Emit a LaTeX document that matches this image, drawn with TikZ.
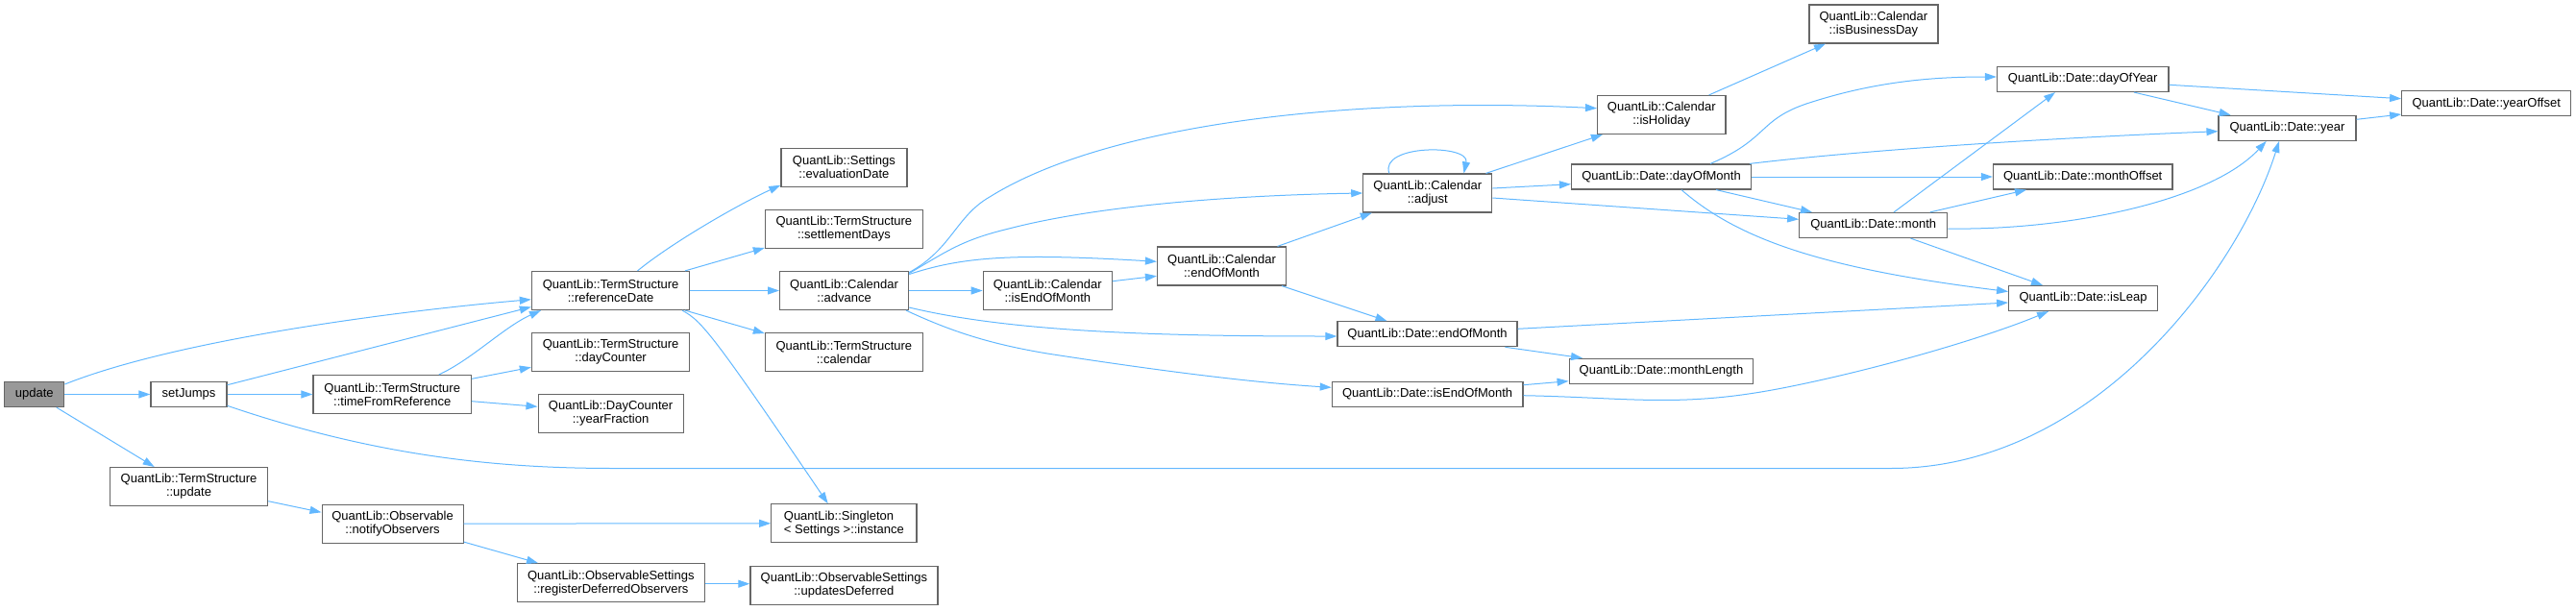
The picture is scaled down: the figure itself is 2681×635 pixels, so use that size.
\documentclass[tikz,border=0pt]{standalone}
\usepackage{fontspec}
\setmainfont{Liberation Sans}
\usetikzlibrary{arrows.meta}
\definecolor{edgecol}{HTML}{63B8FF}
\definecolor{bordercol}{HTML}{666666}
\definecolor{upfill}{HTML}{999999}
\tikzset{
  fn/.style={draw=bordercol, line width=1.2pt, fill=white, inner sep=0pt, align=center,
    font=\fontsize{13}{14}\selectfont, text=black},
  one/.style={minimum height=26pt},
  two/.style={minimum height=40pt},
  ca/.style={draw=edgecol, line width=1pt, -{Triangle[length=12pt,width=8pt]}},
}
\begin{document}
\begin{tikzpicture}[x=1pt,y=-1pt]
\useasboundingbox (0,0) rectangle (2681,635);
% nodes
\node[fn,one,fill=upfill,minimum width=62pt] (upd) at (35.8,410.5) {update};
\node[fn,one,minimum width=79pt] (sj) at (196.5,410.5) {setJumps};
\node[fn,two,minimum width=164.4pt] (tsupd) at (196.5,506.6) {QuantLib::TermStructure\\::update};
\node[fn,two,minimum width=164.4pt] (tfr) at (408.2,410.5) {QuantLib::TermStructure\\::timeFromReference};
\node[fn,two,minimum width=147pt] (notify) at (408.6,545.1) {QuantLib::Observable\\::notifyObservers};
\node[fn,two,minimum width=164.4pt] (refd) at (635.6,302.5) {QuantLib::TermStructure\\::referenceDate};
\node[fn,two,minimum width=164.4pt] (dayc) at (635.6,366.5) {QuantLib::TermStructure\\::dayCounter};
\node[fn,two,minimum width=151pt] (yf) at (635.6,430.5) {QuantLib::DayCounter\\::yearFraction};
\node[fn,two,minimum width=195pt] (regdef) at (635.8,606.7) {QuantLib::ObservableSettings\\::registerDeferredObservers};
\node[fn,two,minimum width=131pt] (evald) at (878.4,174.3) {QuantLib::Settings\\::evaluationDate};
\node[fn,two,minimum width=164pt] (settl) at (878.4,238.5) {QuantLib::TermStructure\\::settlementDays};
\node[fn,two,minimum width=134pt] (adv) at (878.6,302.5) {QuantLib::Calendar\\::advance};
\node[fn,two,minimum width=164pt] (tscal) at (878.4,366.5) {QuantLib::TermStructure\\::calendar};
\node[fn,two,minimum width=151.3pt,align=left] (single) at (878.4,544.8) {QuantLib::Singleton\\< Settings >::instance};
\node[fn,two,minimum width=195pt] (upddef) at (878.4,609.2) {QuantLib::ObservableSettings\\::updatesDeferred};
\node[fn,two,minimum width=134pt] (cieom) at (1090.3,302.5) {QuantLib::Calendar\\::isEndOfMonth};
\node[fn,two,minimum width=134pt] (ceom) at (1271.5,277) {QuantLib::Calendar\\::endOfMonth};
\node[fn,two,minimum width=134pt] (adj) at (1485.8,201) {QuantLib::Calendar\\::adjust};
\node[fn,one,minimum width=187pt] (deom) at (1485.5,347.7) {QuantLib::Date::endOfMonth};
\node[fn,one,minimum width=198.6pt] (dieom) at (1485.6,410.3) {QuantLib::Date::isEndOfMonth};
\node[fn,two,minimum width=133.5pt] (hol) at (1729.3,119.5) {QuantLib::Calendar\\::isHoliday};
\node[fn,one,minimum width=187pt] (dom) at (1729,184) {QuantLib::Date::dayOfMonth};
\node[fn,one,minimum width=191.7pt] (mlen) at (1729,386.3) {QuantLib::Date::monthLength};
\node[fn,two,minimum width=134pt] (bday) at (1949.9,25) {QuantLib::Calendar\\::isBusinessDay};
\node[fn,one,minimum width=154pt] (month) at (1949.7,234.5) {QuantLib::Date::month};
\node[fn,one,minimum width=178.6pt] (doy) at (2167.7,82.5) {QuantLib::Date::dayOfYear};
\node[fn,one,minimum width=186.5pt] (moff) at (2167.7,184) {QuantLib::Date::monthOffset};
\node[fn,one,minimum width=154.7pt] (leap) at (2168,310.5) {QuantLib::Date::isLeap};
\node[fn,one,minimum width=143pt] (year) at (2380.5,133.3) {QuantLib::Date::year};
\node[fn,one,minimum width=176pt] (yoff) at (2587.7,107.8) {QuantLib::Date::yearOffset};
% edges
\draw[ca] ([yshift=10.5pt]upd.east) .. controls (180,355) and (400,325) .. ([yshift=-9.2pt]refd.west);
\draw[ca] (upd.east) -- (sj.west);
\draw[ca] ([xshift=23pt]upd.south) -- ([xshift=-35.8pt]tsupd.north);
\draw[ca] ([yshift=9.8pt]sj.east) -- ([yshift=-17pt]refd.west);
\draw[ca] (sj.east) -- (tfr.west);
\draw[ca] ([yshift=-11.8pt]sj.east) .. controls (400,478) and (530,487.5) .. (640,487.5) -- (1968,487.5) .. controls (2180,487.5) and (2330,280) .. ([xshift=-8.5pt]year.south);
\draw[ca] ([xshift=48.6pt]tfr.north) .. controls (490,375) and (525,340) .. ([xshift=-72.6pt]refd.south);
\draw[ca] ([yshift=16.2pt]tfr.east) -- ([yshift=-15.8pt]dayc.west);
\draw[ca] ([yshift=-7.2pt]tfr.east) -- ([yshift=7.2pt]yf.west);
\draw[ca] ([yshift=-15.1pt]tsupd.east) -- ([yshift=11.8pt]notify.west);
\draw[ca] (notify.east) -- (single.west);
\draw[ca] ([yshift=-19pt]notify.east) -- ([xshift=-75.8pt]regdef.north);
\draw[ca] ([yshift=-1pt]regdef.east) -- ([yshift=1.5pt]upddef.west);
\draw[ca] ([xshift=27.9pt]refd.north) .. controls (700,252) and (770,212) .. ([yshift=-18.5pt]evald.west);
\draw[ca] ([xshift=77.4pt]refd.north) -- ([yshift=-19.5pt]settl.west);
\draw[ca] (refd.east) -- (adv.west);
\draw[ca] ([xshift=77.4pt]refd.south) -- ([yshift=19.5pt]tscal.west);
\draw[ca] ([xshift=74.4pt]refd.south) .. controls (730,334) and (740,345) .. ([xshift=-16.7pt]single.north);
\draw[ca] ([yshift=19pt]adv.east) .. controls (990,260) and (995,225) .. (1030,205) .. controls (1150,130) and (1400,100) .. ([yshift=6.8pt]hol.west);
\draw[ca] ([yshift=18pt]adv.east) .. controls (985,262) and (1000,250) .. (1050,238) .. controls (1150,212) and (1300,203) .. (adj.west);
\draw[ca] ([yshift=17pt]adv.east) .. controls (1000,268) and (1050,263) .. ([yshift=4.7pt]ceom.west);
\draw[ca] (adv.east) -- (cieom.west);
\draw[ca] ([yshift=-17.5pt]adv.east) .. controls (1050,345) and (1200,350) .. ([yshift=-2.3pt]deom.west);
\draw[ca] ([xshift=64.4pt]adv.south) .. controls (990,345) and (1030,358) .. (1090,368) .. controls (1200,385) and (1300,398) .. ([yshift=7pt]dieom.west);
\draw[ca] ([yshift=9.8pt]cieom.east) -- ([yshift=-10.3pt]ceom.west);
\draw[ca] ([xshift=58pt]ceom.north) -- ([xshift=-58pt]adj.south);
\draw[ca] ([xshift=62.5pt]ceom.south) -- ([xshift=-42pt]deom.north);
\draw[ca] ([xshift=-40pt]adj.north) .. controls (1435,150) and (1530,150) .. ([xshift=37.7pt]adj.north);
\draw[ca] ([xshift=60.7pt]adj.north) -- ([xshift=-61.4pt]hol.south);
\draw[ca] ([yshift=5pt]adj.east) -- ([yshift=-7.7pt]dom.west);
\draw[ca] ([yshift=-5pt]adj.east) -- ([yshift=6.2pt]month.west);
\draw[ca] ([xshift=49.3pt]hol.north) -- ([xshift=-50pt]bday.south);
\draw[ca] ([xshift=51pt]dom.north) .. controls (1840,145) and (1830,125) .. (1880,108) .. controls (1950,85) and (2010,80) .. ([yshift=2.5pt]doy.west);
\draw[ca] ([xshift=92pt]dom.north) .. controls (1950,155) and (2150,143) .. ([yshift=-3.4pt]year.west);
\draw[ca] (dom.east) -- (moff.west);
\draw[ca] ([xshift=57pt]dom.south) -- ([xshift=-63.7pt]month.north);
\draw[ca] ([xshift=21pt]dom.south) .. controls (1810,250) and (1900,280) .. ([yshift=7pt]leap.west);
\draw[ca] ([xshift=21.3pt]month.north) -- ([xshift=-28.7pt]doy.south);
\draw[ca] ([xshift=58.9pt]month.north) -- ([xshift=-58.7pt]moff.south);
\draw[ca] ([yshift=-3.5pt]month.east) .. controls (2150,240) and (2300,210) .. ([xshift=-21.8pt]year.south);
\draw[ca] ([xshift=38.8pt]month.south) -- ([xshift=-42pt]leap.north);
\draw[ca] ([yshift=-5.8pt]doy.east) -- ([yshift=5.1pt]yoff.west);
\draw[ca] ([xshift=53.3pt]doy.south) -- ([xshift=-58.9pt]year.north);
\draw[ca] ([yshift=9pt]year.east) -- ([yshift=-11.2pt]yoff.west);
\draw[ca] ([yshift=5.4pt]deom.east) -- ([yshift=-4.5pt]leap.west);
\draw[ca] ([xshift=81pt]deom.south) -- ([xshift=-82pt]mlen.north);
\draw[ca] ([yshift=9.6pt]dieom.east) -- ([yshift=-10.4pt]mlen.west);
\draw[ca] ([yshift=-1.4pt]dieom.east) .. controls (1700,414) and (1750,425) .. (1860,403) .. controls (1960,383) and (2070,350) .. ([xshift=-36pt]leap.south);
\end{tikzpicture}
\end{document}
